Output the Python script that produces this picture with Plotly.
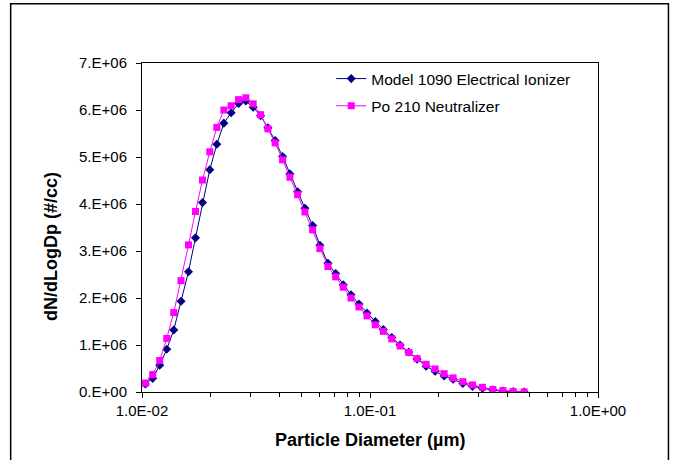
import plotly.graph_objects as go

# Particle diameters (micrometres)
diameter_um = [0.01035, 0.01114, 0.01196, 0.01284, 0.01378, 0.01483, 0.01599, 0.01716,
               0.01842, 0.01983, 0.02129, 0.02285, 0.02460, 0.02651, 0.02854, 0.03073,
               0.03311, 0.03565, 0.03837, 0.04136, 0.04452, 0.04814, 0.05182, 0.05602,
               0.06031, 0.06540, 0.07069, 0.07633, 0.08252, 0.08948, 0.09701, 0.1055,
               0.1144, 0.1246, 0.1355, 0.1479, 0.1609, 0.1762, 0.1930, 0.2114,
               0.2315, 0.2553, 0.2814, 0.3113, 0.3458, 0.3826, 0.4246, 0.4746]

# dN/dLogDp (#/cc) in units of 1e6
ionizer_e6 = [0.17, 0.29, 0.57, 0.91, 1.32, 1.93, 2.56, 3.28,
              4.03, 4.73, 5.27, 5.72, 5.94, 6.14, 6.19, 6.06,
              5.88, 5.62, 5.35, 5.01, 4.64, 4.26, 3.91, 3.54,
              3.12, 2.74, 2.52, 2.28, 2.07, 1.87, 1.68, 1.50,
              1.33, 1.16, 1.00, 0.85, 0.70, 0.55, 0.44, 0.34,
              0.27, 0.18, 0.12, 0.08, 0.04, 0.02, 0.01, 0.00]

po210_e6 = [0.19, 0.37, 0.67, 1.14, 1.69, 2.37, 3.13, 3.84,
            4.51, 5.11, 5.63, 6.00, 6.09, 6.22, 6.26, 6.13,
            5.90, 5.60, 5.30, 4.94, 4.57, 4.20, 3.83, 3.45,
            3.05, 2.67, 2.45, 2.23, 2.00, 1.81, 1.62, 1.43,
            1.29, 1.13, 0.98, 0.84, 0.71, 0.59, 0.49, 0.39,
            0.30, 0.22, 0.15, 0.10, 0.055, 0.03, 0.01, 0.00]

series_names = ["Model 1090 Electrical Ionizer", "Po 210 Neutralizer"]

y_tickvals = [0, 1e6, 2e6, 3e6, 4e6, 5e6, 6e6, 7e6]
y_ticktext = ["0.E+00", "1.E+06", "2.E+06", "3.E+06", "4.E+06", "5.E+06", "6.E+06", "7.E+06"]
x_tickvals = [0.01, 0.1, 1.0]
x_ticktext = ["1.0E-02", "1.0E-01", "1.0E+00"]
x_minorvals = [0.02, 0.03, 0.04, 0.05, 0.06, 0.07, 0.08, 0.09,
               0.2, 0.3, 0.4, 0.5, 0.6, 0.7, 0.8, 0.9]

FONT = "Arial, Liberation Sans, sans-serif"

fig = go.Figure()
fig.add_trace(go.Scatter(
    x=diameter_um, y=[v * 1e6 for v in ionizer_e6], name=series_names[0],
    mode="lines+markers", legendgroup="a",
    line=dict(color="#000080", width=1),
    marker=dict(symbol="diamond", size=7, color="#000080"),
))
fig.add_trace(go.Scatter(
    x=diameter_um, y=[v * 1e6 for v in po210_e6], name=series_names[1],
    mode="lines+markers", legendgroup="b",
    line=dict(color="#FF00FF", width=1),
    marker=dict(symbol="square", size=7, color="#FF00FF"),
))

fig.update_layout(
    width=673, height=460,
    margin=dict(l=142, r=75, t=63, b=68),
    paper_bgcolor="white", plot_bgcolor="white",
    font=dict(family=FONT, size=15, color="black"),
    showlegend=True,
    legend=dict(x=0.415, y=1.003, xanchor="left", yanchor="top",
                bgcolor="rgba(0,0,0,0)", font=dict(size=15.5, family=FONT),
                tracegroupgap=4, itemwidth=30),
    xaxis=dict(type="log", range=[-2, 0], tickvals=x_tickvals, ticktext=x_ticktext,
               showgrid=False, zeroline=False, showline=True, linecolor="black",
               linewidth=1, mirror=True, ticks="outside", ticklen=5, tickcolor="black",
               tickfont=dict(size=15),
               minor=dict(tickmode="array", tickvals=x_minorvals, ticks="outside",
                          ticklen=4, tickcolor="black", showgrid=False)),
    yaxis=dict(range=[0, 7e6], tickvals=y_tickvals, ticktext=y_ticktext,
               showgrid=False, zeroline=False, showline=True, linecolor="black",
               linewidth=1, mirror=True, ticks="outside", ticklen=5, tickcolor="black",
               tickfont=dict(size=15), ticklabelstandoff=6),
    annotations=[
        dict(text="<b>Particle Diameter (µm)</b>", xref="paper", yref="paper",
             x=0.5, y=-0.145, xanchor="center", yanchor="middle", showarrow=False,
             font=dict(size=18, family=FONT)),
        dict(text="<b>dN/dLogDp (#/cc)</b>", xref="paper", yref="paper",
             x=-0.2, y=0.443, xanchor="center", yanchor="middle", showarrow=False,
             textangle=-90, font=dict(size=18, family=FONT)),
    ],
    shapes=[dict(type="rect", xref="paper", yref="paper",
                 x0=-0.288, x1=1.1545, y0=-0.212, y1=1.18,
                 line=dict(color="black", width=1.5), fillcolor="rgba(0,0,0,0)")],
)

fig.write_html("out.html")
